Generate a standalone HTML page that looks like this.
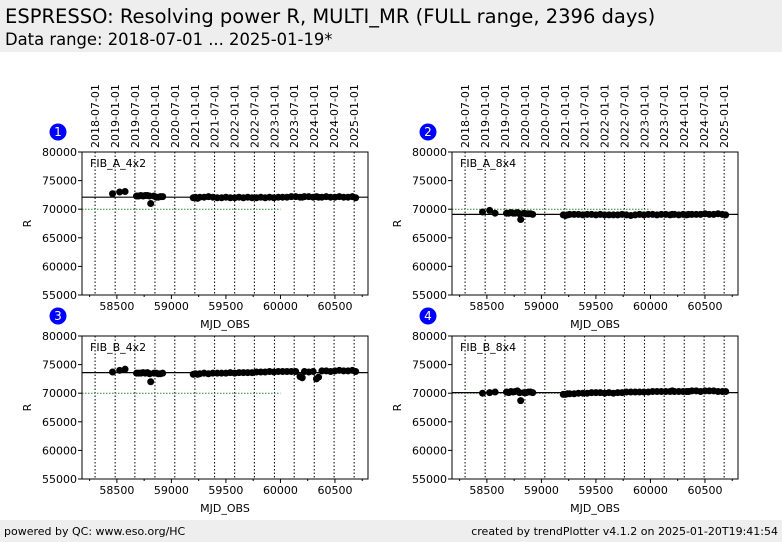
<!DOCTYPE html>
<html><head><meta charset="utf-8"><style>
body{margin:0;width:782px;height:542px;background:#fff;font-family:"DejaVu Sans","Liberation Sans",sans-serif;overflow:hidden;position:relative}
.hdr{position:absolute;left:0;top:0;width:782px;height:52px;background:#eeeeee}
.ftr{position:absolute;left:0;top:520px;width:782px;height:22px;background:#eeeeee;font-size:11px}
</style></head><body>
<div class="hdr">
<div style="position:absolute;left:5px;top:5px;font-size:19.5px">ESPRESSO: Resolving power R, MULTI_MR (FULL range, 2396 days)</div>
<div style="position:absolute;left:5px;top:30px;font-size:16.4px">Data range: 2018-07-01 ... 2025-01-19*</div>
</div>
<svg id="chart" width="782" height="542" style="position:absolute;left:0;top:0"></svg>
<div class="ftr">
<span style="position:absolute;left:4px;top:5px">powered by QC: www.eso.org/HC</span>
<span style="position:absolute;right:4px;top:5px">created by trendPlotter v4.1.2 on 2025-01-20T19:41:54</span>
</div>
<script>
const mjd=[58460,58525,58575,58680,58700,58720,58740,58760,58780,58800,58810,58840,58860,58880,58900,58920,
59200,59220,59240,59260,59300,59340,59380,59420,59460,59500,59540,59580,59620,59660,59700,59740,59780,59820,59860,59900,
59940,59980,60020,60060,60100,60140,60180,60200,60220,60260,60300,60330,60350,60380,60420,60460,60500,60540,60580,60620,60660,60690];
const valsA4x2=[72700,73000,73100,72300,72300,72400,72300,72400,72400,72300,71000,72300,72100,72100,72200,72200,
72000,72100,71900,72100,72100,72200,72100,72000,72000,72100,72000,72000,72100,72000,72100,72000,72000,72100,72000,72100,
72000,72100,72100,72100,72200,72200,72100,72100,72200,72200,72100,72200,72100,72100,72200,72100,72100,72200,72100,72100,72200,72000];
const valsA8x4=[69500,69800,69300,69300,69300,69400,69300,69300,69400,69200,68200,69300,69200,69200,69200,69100,
69000,68900,69000,69100,69100,69100,69000,69100,69100,69000,69100,69000,69000,69000,69000,69100,69000,68900,69000,69100,
69000,69100,69100,69000,69100,69100,69000,69100,69100,69000,69100,69000,69100,69100,69100,69100,69200,69100,69100,69200,69100,69000];
const valsB4x2=[73700,74000,74200,73500,73500,73500,73600,73500,73600,73400,72000,73500,73500,73400,73400,73500,
73300,73400,73300,73400,73500,73400,73500,73500,73500,73500,73600,73500,73600,73600,73600,73600,73700,73700,73700,73800,
73700,73800,73800,73800,73800,73800,72900,72700,73800,73700,73800,72500,72800,73900,73900,73800,73900,74000,73900,73900,74000,73800];
const valsB8x4=[70000,70100,70200,70200,70100,70300,70200,70300,70400,70100,68700,70100,70100,70200,70200,70100,
69800,69800,69900,69900,69900,70000,70000,70000,70100,70100,70100,70000,70100,70000,70100,70100,70200,70200,70200,70200,
70200,70200,70300,70300,70300,70300,70300,70400,70300,70300,70300,70300,70300,70400,70400,70300,70400,70400,70400,70300,70300,70300];
const means=[72100,69100,73600,70100];
const refs=[70000,70000,70000,70000];
const refEnd=[60000,60000,60000,60720];
const panelNames=["FIB_A_4x2","FIB_A_8x4","FIB_B_4x2","FIB_B_8x4"];
const yTicks=[55000,60000,65000,70000,75000,80000];
const xTicks=[58500,59000,59500,60000,60500];
const xMinor=[58250,58750,59250,59750,60250,60750];
const dateLabels=["2018-07-01","2019-01-01","2019-07-01","2020-01-01","2020-07-01","2021-01-01","2021-07-01","2022-01-01","2022-07-01","2023-01-01","2023-07-01","2024-01-01","2024-07-01","2025-01-01"];
const dateMjd=[58300,58484,58665,58849,59031,59215,59396,59580,59761,59945,60126,60310,60492,60676];
const series=[valsA4x2,valsA8x4,valsB4x2,valsB8x4];

const NS="http://www.w3.org/2000/svg";
const svg=document.getElementById('chart');
function mk(tag,attrs,parent){const e=document.createElementNS(NS,tag);for(const k in attrs)e.setAttribute(k,attrs[k]);(parent||svg).appendChild(e);return e;}
const XMIN=58180,XMAX=60803,YMIN=55000,YMAX=80000;
const boxes=[[82,152],[452,152],[82,336],[452,336]];
const W=286,H=143;
series.forEach((vals,p)=>{
  const [L,T]=boxes[p];
  const xs=v=>L+(v-XMIN)/(XMAX-XMIN)*W;
  const ys=v=>T+H-(v-YMIN)/(YMAX-YMIN)*H;
  const g=mk('g',{});
  
  
  dateMjd.forEach((d,i)=>{
    const l=mk('line',{x1:xs(d),x2:xs(d),y1:T,y2:T+H,stroke:'#000','stroke-width':1,'stroke-dasharray':'1.5,2'},g);
    
    
    if(p<2){
      const t=mk('text',{x:0,y:0,'font-size':11,transform:`translate(${xs(d)+4},${T-4}) rotate(-90)`},g);
      t.textContent=dateLabels[i];
      
      
    }
  });
  const rl=mk('line',{x1:L,x2:xs(refEnd[p]),y1:ys(refs[p]),y2:ys(refs[p]),stroke:'#2a8a2a','stroke-width':1,'stroke-dasharray':'1.5,1.5'},g);
  
  
  vals.forEach((v,i)=>{
    const c=mk('circle',{cx:xs(mjd[i]),cy:ys(v),r:3.5,fill:'#000'},g);
    
    
  });
  const ml=mk('line',{x1:L,x2:L+W,y1:ys(means[p]),y2:ys(means[p]),stroke:'#000','stroke-width':1.2},g);
  
  
  const fr=mk('rect',{x:L,y:T,width:W,height:H,fill:'none',stroke:'#000','stroke-width':1},g);
  
  
  yTicks.forEach(v=>{
    mk('line',{x1:L-4,x2:L,y1:ys(v),y2:ys(v),stroke:'#000'},g);
    const t=mk('text',{x:L-5,y:ys(v)+4,'font-size':11,'text-anchor':'end'},g);
    t.textContent=v;
    
    
  });
  xTicks.forEach(v=>{
    mk('line',{x1:xs(v),x2:xs(v),y1:T+H,y2:T+H+4,stroke:'#000'},g);
    const t=mk('text',{x:xs(v),y:T+H+15,'font-size':11,'text-anchor':'middle'},g);
    t.textContent=v;
    
    
  });
  xMinor.forEach(v=>{if(v<XMAX)mk('line',{x1:xs(v),x2:xs(v),y1:T+H,y2:T+H+2,stroke:'#000'},g);});
  const xl=mk('text',{x:L+W/2,y:T+H+33,'font-size':11,'text-anchor':'middle'},g);
  xl.textContent='MJD_OBS';
  
  
  const yl=mk('text',{x:0,y:0,'font-size':11,'text-anchor':'middle',transform:`translate(${L-51},${T+H/2}) rotate(-90)`},g);
  yl.textContent='R';
  
  
  const nm=mk('text',{x:L+8,y:T+15,'font-size':11},g);
  nm.textContent=panelNames[p];
  
  
  const bc=mk('circle',{cx:L-24,cy:T-20,r:8.5,fill:'#0000ff'},g);
  
  
  const bt=mk('text',{x:L-24,y:T-16,'font-size':12,fill:'#fff','text-anchor':'middle'},g);
  bt.textContent=p+1;
  
  
});
</script>
</body></html>
